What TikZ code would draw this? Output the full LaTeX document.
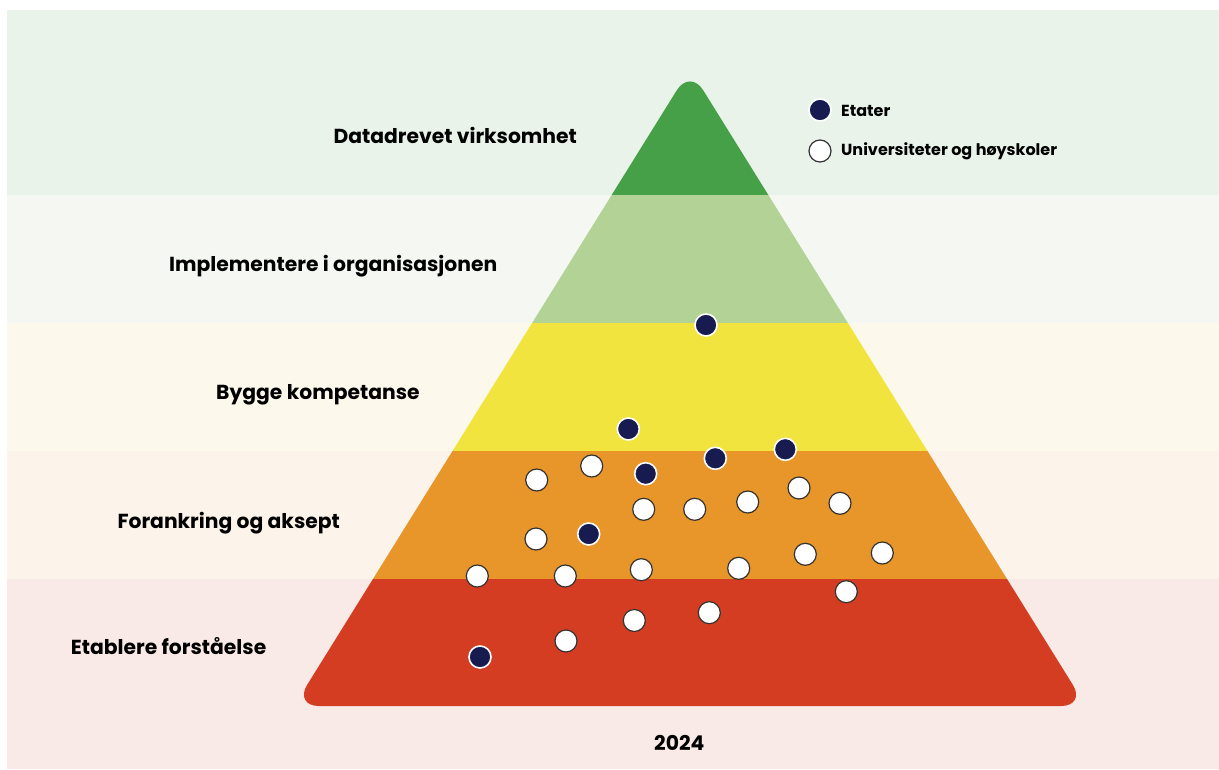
\documentclass[tikz,border=0pt]{standalone}
\usepackage{fontspec}
\setmainfont{Poppins}
\usetikzlibrary{positioning}

\definecolor{bgone}{HTML}{E9F3EA}
\definecolor{bgtwo}{HTML}{F5F8F2}
\definecolor{bgthree}{HTML}{FCF9EC}
\definecolor{bgfour}{HTML}{FCF3EA}
\definecolor{bgfive}{HTML}{F9EAE7}
\definecolor{lvlone}{HTML}{45A048}
\definecolor{lvltwo}{HTML}{B3D296}
\definecolor{lvlthree}{HTML}{F1E43E}
\definecolor{lvlfour}{HTML}{E8952A}
\definecolor{lvlfive}{HTML}{D53D23}
\definecolor{navy}{HTML}{171B50}

\tikzset{
	lvllabel/.style={anchor=base west, inner sep=0pt, font=\fontsize{20.3}{23}\selectfont\bfseries},
	legtext/.style={anchor=base west, inner sep=0pt, font=\fontsize{16}{18}\selectfont\bfseries},
	etat/.style={circle, fill=navy, draw=white, line width=1.6pt, minimum size=22pt, inner sep=0pt},
	uni/.style={circle, fill=white, draw=black!80, line width=1.2pt, minimum size=22pt, inner sep=0pt}
}

\begin{document}
\begin{tikzpicture}[x=1pt, y=-1pt]
	\useasboundingbox (0,0) rectangle (1219,769);
	\fill[white] (0,0) rectangle (1219,769);
	% background bands
	\fill[bgone] (7,10) rectangle (1219,195);
	\fill[bgtwo] (7,195) rectangle (1219,323);
	\fill[bgthree] (7,323) rectangle (1219,451);
	\fill[bgfour] (7,451) rectangle (1219,579);
	\fill[bgfive] (7,579) rectangle (1219,769);
	% pyramid
	\begin{scope}
		\clip[rounded corners=25pt] (690,69) -- (1086,706) -- (294,706) -- cycle;
		\fill[lvlone] (280,60) rectangle (1100,195);
		\fill[lvltwo] (280,195) rectangle (1100,323);
		\fill[lvlthree] (280,323) rectangle (1100,451);
		\fill[lvlfour] (280,451) rectangle (1100,579);
		\fill[lvlfive] (280,579) rectangle (1100,710);
	\end{scope}
	% level labels
	\node[lvllabel] (datadrevet) at (333.3,143.3) {Datadrevet virksomhet};
	\node[lvllabel] (implementere) at (169,271.7) {Implementere i organisasjonen};
	\node[lvllabel] (bygge) at (216,399) {Bygge kompetanse};
	\node[lvllabel] (forankring) at (117.3,528.3) {Forankring og aksept};
	\node[lvllabel] (etablere) at (70.7,654.3) {Etablere forståelse};
	\node[lvllabel] (year) at (654,750.7) {2024};
	% legend
	\node[etat] (legetat) at (820,110) {};
	\node[uni] (leguni) at (820,151) {};
	\node[legtext] (legetattext) at (841,116.7) {Etater};
	\node[legtext] (legunitext) at (841,155.5) {Universiteter og høyskoler};
	% universities
	\foreach \px/\py [count=\i] in {536.7/480, 591.7/466, 643.7/509.3, 694.7/509.3, 747.7/502,
		799/488, 840/503.3, 536/539, 477.3/576, 565.3/576, 641.3/569.7, 738.7/568.3,
		805.3/554.3, 882.3/553, 846.3/591.7, 709.3/612.7, 634.3/620.5, 566/641}
		\node[uni] (uni\i) at (\px,\py) {};
	% etater
	\foreach \px/\py [count=\i] in {706/325, 628.3/429, 715.3/458.3, 785.3/449.3,
		645.7/473.7, 588.7/534, 480/657}
		\node[etat] (etat\i) at (\px,\py) {};
\end{tikzpicture}
\end{document}
